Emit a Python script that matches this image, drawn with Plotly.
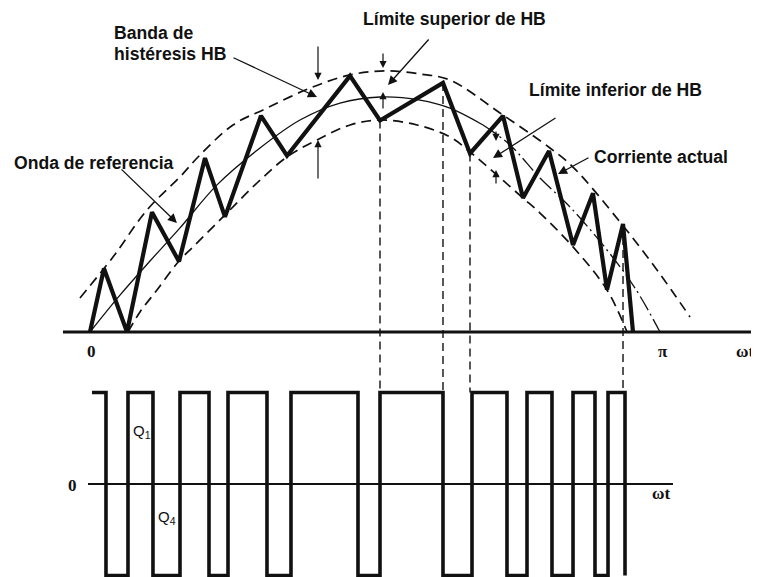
import plotly.graph_objects as go

# ---------------- data (ωt in degrees: 0..180 = 0..π ; current in p.u. of reference peak) -------------
current_deg = [0, 4.42, 11.68, 19.58, 28.11, 36.32, 42.63, 54.0, 62.21, 82.11, 91.58,
               111.47, 120.0, 130.42, 136.74, 144.95, 152.53, 158.84, 163.26, 168.32, 171.47]
current_val = [0, 0.27, 0, 0.51, 0.30, 0.74, 0.49, 0.92, 0.75, 1.09, 0.90,
               1.06, 0.76, 0.92, 0.57, 0.77, 0.37, 0.59, 0.18, 0.46, 0]

ref_deg = [0, 9.47, 18.95, 28.42, 40.11, 53.68, 66.32, 78.95, 91.58, 104.21, 113.68,
           124.11, 132.63, 142.11, 151.58, 163.26, 172.11, 180]
ref_val = [0, 0.157, 0.302, 0.443, 0.626, 0.783, 0.902, 0.974, 1.0, 0.987, 0.953,
           0.881, 0.796, 0.655, 0.532, 0.349, 0.187, 0]
ref_split = 11      # from this point on the reference is drawn dash-dotted

upper_deg = [-3.16, 7.26, 18.0, 28.42, 34.74, 45.16, 55.89, 69.47, 82.11, 93.16, 104.21,
             113.68, 129.47, 145.26, 152.53, 167.37, 179.05, 189.47]
upper_val = [0.145, 0.319, 0.519, 0.660, 0.753, 0.881, 0.953, 1.038, 1.094, 1.111, 1.098,
             1.072, 0.932, 0.783, 0.702, 0.468, 0.264, 0.064]

lower_deg = [12.0, 15.79, 21.16, 28.11, 32.53, 42.63, 52.74, 62.21, 71.68, 82.11, 91.58,
             103.26, 113.68, 120.0, 136.74, 142.11, 152.53, 163.26, 169.58]
lower_val = [0.0, 0.085, 0.179, 0.302, 0.362, 0.498, 0.634, 0.745, 0.817, 0.881, 0.902,
             0.881, 0.830, 0.766, 0.570, 0.506, 0.362, 0.179, 0.0]

switch_deg = [0.63, 5.05, 12.0, 19.89, 28.42, 37.58, 43.58, 55.89, 63.47, 84.63, 91.58,
              111.47, 120.63, 131.68, 138.0, 145.89, 152.53, 159.47, 163.58, 168.95]
switch_state = [1, -1, 1, -1, 1, -1, 1, -1, 1, -1, 1, -1, 1, -1, 1, -1, 1, -1, 1, -1]

guide_idx = [10, 11, 12, 19]          # current vertices projected down to the gate signal

axis_deg = [-8.53, 211.26]
gate_axis_deg = [-0.63, 184.1]

# ---------------- frame -------------
# (the page body keeps an 8px margin, so the figure is 8px smaller each way)
X_RANGE = [-25.89, 211.26]
Y_RANGE = [-1.0426, 1.3787]
Y2_RANGE = [-1.016, 5.202]

INK = "#111111"
fig = go.Figure()

# top axis
fig.add_trace(go.Scatter(x=axis_deg, y=[0, 0], mode="lines",
                         line=dict(color=INK, width=3)))
# hysteresis band limits
fig.add_trace(go.Scatter(x=upper_deg, y=upper_val, mode="lines", line_shape="spline",
                         line=dict(color=INK, width=1.7, dash="10px,6px")))
fig.add_trace(go.Scatter(x=lower_deg, y=lower_val, mode="lines", line_shape="spline",
                         line=dict(color=INK, width=1.7, dash="10px,6px")))
# reference wave
fig.add_trace(go.Scatter(x=ref_deg[:ref_split + 1], y=ref_val[:ref_split + 1], mode="lines",
                         line_shape="spline", line=dict(color=INK, width=1.3)))
fig.add_trace(go.Scatter(x=ref_deg[ref_split:], y=ref_val[ref_split:], mode="lines",
                         line_shape="spline",
                         line=dict(color=INK, width=1.3, dash="16px,4px,2px,4px")))

# dashed guides down to gate signal (top of pulse)
frac = (1 - Y2_RANGE[0]) / (Y2_RANGE[1] - Y2_RANGE[0])
guide_bottom = Y_RANGE[0] + frac * (Y_RANGE[1] - Y_RANGE[0])
for i in guide_idx:
    fig.add_trace(go.Scatter(x=[current_deg[i], current_deg[i]], y=[current_val[i], guide_bottom],
                             mode="lines", line=dict(color=INK, width=1.4, dash="8px,5px")))

# actual current
fig.add_trace(go.Scatter(x=current_deg, y=current_val, mode="lines",
                         line=dict(color=INK, width=4.2)))

# gate signal
fig.add_trace(go.Scatter(x=gate_axis_deg, y=[0, 0], yaxis="y2", mode="lines",
                         line=dict(color=INK, width=2)))
fig.add_trace(go.Scatter(x=switch_deg, y=switch_state, yaxis="y2", mode="lines",
                         line_shape="hv", line=dict(color=INK, width=3.6)))

# ---------------- annotations -------------
LBL = dict(family="Liberation Sans, Arial, sans-serif", size=17.6, color=INK)
MATH = dict(family="Liberation Serif, DejaVu Serif, serif", size=17, color=INK)
QF = dict(family="Liberation Sans, Arial, sans-serif", size=15, color=INK)

labels = [
    ("<b>Banda de</b>", 6.95, 1.272),
    ("<b>histéresis HB</b>", 6.95, 1.183),
    ("<b>Límite superior de HB</b>", 85.6, 1.332),
    ("<b>Límite inferior de HB</b>", 138.0, 1.030),
    ("<b>Onda de referencia</b>", -24.6, 0.719),
    ("<b>Corriente actual</b>", 158.53, 0.745),
]
for t, x, y in labels:
    fig.add_annotation(text=t, x=x, y=y, xref="x", yref="y", xanchor="left", yanchor="middle",
                       showarrow=False, font=LBL)

# pointer arrows: (tail x, tail y, tip x, tip y)
pointers = [
    (44.84, 1.170, 71.68, 1.0),
    (9.47, 0.698, 27.47, 0.464),
    (107.37, 1.251, 94.11, 1.051),
    (147.47, 0.915, 127.26, 0.740),
    (157.89, 0.745, 147.79, 0.672),
]
for ax, ay, x, y in pointers:
    fig.add_annotation(x=x, y=y, ax=ax, ay=ay, xref="x", yref="y", axref="x", ayref="y",
                       text="", showarrow=True, arrowhead=2, arrowsize=1.4, arrowwidth=1.3,
                       arrowcolor=INK)

# band-width markers
markers = [
    (72.0, 1.221, 1.072), (72.0, 0.647, 0.817),
    (92.53, 1.191, 1.123), (92.53, 0.945, 1.021),
    (128.21, 0.860, 0.813), (128.21, 0.626, 0.689),
]
for x, y0, y1 in markers:
    fig.add_annotation(x=x, y=y1, ax=x, ay=y0, xref="x", yref="y", axref="x", ayref="y",
                       text="", showarrow=True, arrowhead=2, arrowsize=1.2, arrowwidth=1.2,
                       arrowcolor=INK)

math_labels = [
    ("<b>0</b>", 0.63, -0.085, "y", "center", MATH),
    ("<b>π</b>", 180.95, -0.085, "y", "center", MATH),
    ("<b>ωt</b>", 203.5, -0.085, "y", "left", MATH),
    ("<b>0</b>", -5.37, -0.02, "y2", "center", MATH),
    ("<b>ωt</b>", 180.3, -0.098, "y2", "center", MATH),
    ("Q<sub>1</sub>", 13.0, 0.575, "y2", "left", QF),
    ("Q<sub>4</sub>", 21.0, -0.37, "y2", "left", QF),
]
for t, x, y, yr, xa, f in math_labels:
    fig.add_annotation(text=t, x=x, y=y, xref="x", yref=yr, xanchor=xa, yanchor="middle",
                       showarrow=False, font=f)

fig.update_layout(
    width=751, height=569, autosize=False,
    margin=dict(l=0, r=0, t=0, b=0),
    paper_bgcolor="white", plot_bgcolor="white",
    showlegend=False, hovermode=False,
    xaxis=dict(range=X_RANGE, visible=False, fixedrange=True),
    yaxis=dict(range=Y_RANGE, visible=False, fixedrange=True),
    yaxis2=dict(range=Y2_RANGE, visible=False, overlaying="y", fixedrange=True),
)

fig.write_html("out.html")
